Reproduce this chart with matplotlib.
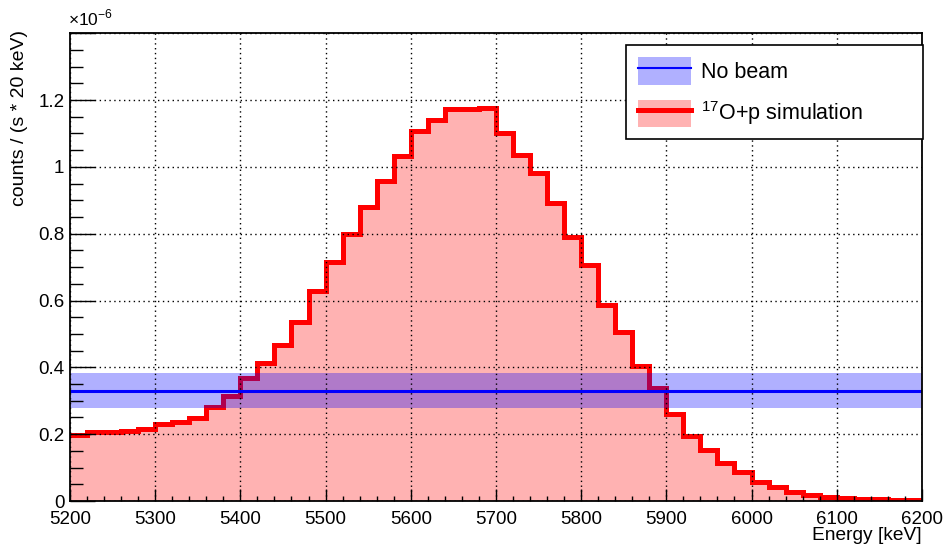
import matplotlib
matplotlib.use("Agg")
import matplotlib.pyplot as plt
import numpy as np
from matplotlib.lines import Line2D
from matplotlib.patches import Patch
from matplotlib.ticker import FuncFormatter, MultipleLocator

plt.rcParams["font.family"] = ["Liberation Sans", "DejaVu Sans"]
plt.rcParams["mathtext.fontset"] = "custom"
plt.rcParams["mathtext.rm"] = "Liberation Sans"

# 20 keV bins, 5200-6200 keV
bin_edges = np.arange(5200, 6201, 20)

# simulated 17O+p spectrum, counts / (s * 20 keV), in units of 1e-6
sim_counts = np.array([
    0.197, 0.206, 0.208, 0.210, 0.216, 0.229, 0.235, 0.248, 0.281, 0.315,
    0.368, 0.414, 0.467, 0.535, 0.628, 0.714, 0.798, 0.879, 0.958, 1.033,
    1.106, 1.140, 1.172, 1.174, 1.175, 1.100, 1.036, 0.983, 0.893, 0.791,
    0.705, 0.586, 0.507, 0.405, 0.338, 0.261, 0.194, 0.152, 0.114, 0.086,
    0.058, 0.041, 0.028, 0.017, 0.013, 0.009, 0.007, 0.005, 0.004, 0.003,
]) * 1e-6

# no-beam background level and its uncertainty
nobeam_level = 0.330e-6
nobeam_err = 0.053e-6

fig = plt.figure(figsize=(9.48, 5.44), dpi=100)
ax = fig.add_axes([0.0738, 0.079, 0.8987, 0.860])

ax.stairs(sim_counts, bin_edges, fill=True, color="red", alpha=0.3, lw=0)
ax.stairs(sim_counts, bin_edges, baseline=None, color="red", lw=3.6)

ax.fill_between([bin_edges[0], bin_edges[-1]], nobeam_level - nobeam_err,
                nobeam_level + nobeam_err, color="blue", alpha=0.31, lw=0)
ax.axhline(nobeam_level, color="blue", lw=2.2)

ax.set_xlim(5200, 6200)
ax.set_ylim(0, 1.4e-6)

ax.xaxis.set_major_locator(MultipleLocator(100))
ax.xaxis.set_minor_locator(MultipleLocator(20))
ax.yaxis.set_major_locator(MultipleLocator(0.2e-6))
ax.yaxis.set_minor_locator(MultipleLocator(0.05e-6))
ax.yaxis.set_major_formatter(
    FuncFormatter(lambda v, _: "" if v > 1.3e-6 else f"{v * 1e6:g}"))

ax.grid(True, which="major", color="black", ls=(0, (1, 2.5)), lw=1.0)
ax.set_axisbelow(False)

ax.tick_params(axis="both", which="both", direction="in", labelsize=13.5,
               width=1.0, color="black")
ax.tick_params(axis="y", which="major", length=18, pad=4)
ax.tick_params(axis="y", which="minor", length=9.5)
ax.tick_params(axis="x", which="major", length=8.5, pad=7)
ax.tick_params(axis="x", which="minor", length=3.6)
for s in ax.spines.values():
    s.set_linewidth(1.3)

handles = [
    (Patch(facecolor="blue", alpha=0.31, lw=0), Line2D([], [], color="blue", lw=1.5)),
    (Patch(facecolor="red", alpha=0.3, lw=0), Line2D([], [], color="red", lw=3.6)),
]
labels = ["No beam", "$^{17}$O+p simulation"]
leg = ax.legend(handles, labels, loc="upper left",
                bbox_to_anchor=(0.653, 0.974, 0.348, 0.0), mode="expand",
                fontsize=15.5, frameon=True, fancybox=False, framealpha=1,
                edgecolor="black", handlelength=2.45, handleheight=1.6,
                handletextpad=0.45, labelspacing=0.68, borderpad=0.55,
                borderaxespad=0)
leg.get_frame().set_linewidth(1.2)
leg.set_zorder(5)

fig.text(0.0717, 0.967, r"$\times$10$^{-6}$", fontsize=12.5, ha="left", va="center")
fig.text(0.021, 0.945, "counts / (s * 20 keV)", rotation=90, fontsize=14,
         ha="center", va="top")
fig.text(0.9726, 0.0165, "Energy [keV]", fontsize=13.8, ha="right", va="center")

fig.savefig("out.png", dpi=100)
